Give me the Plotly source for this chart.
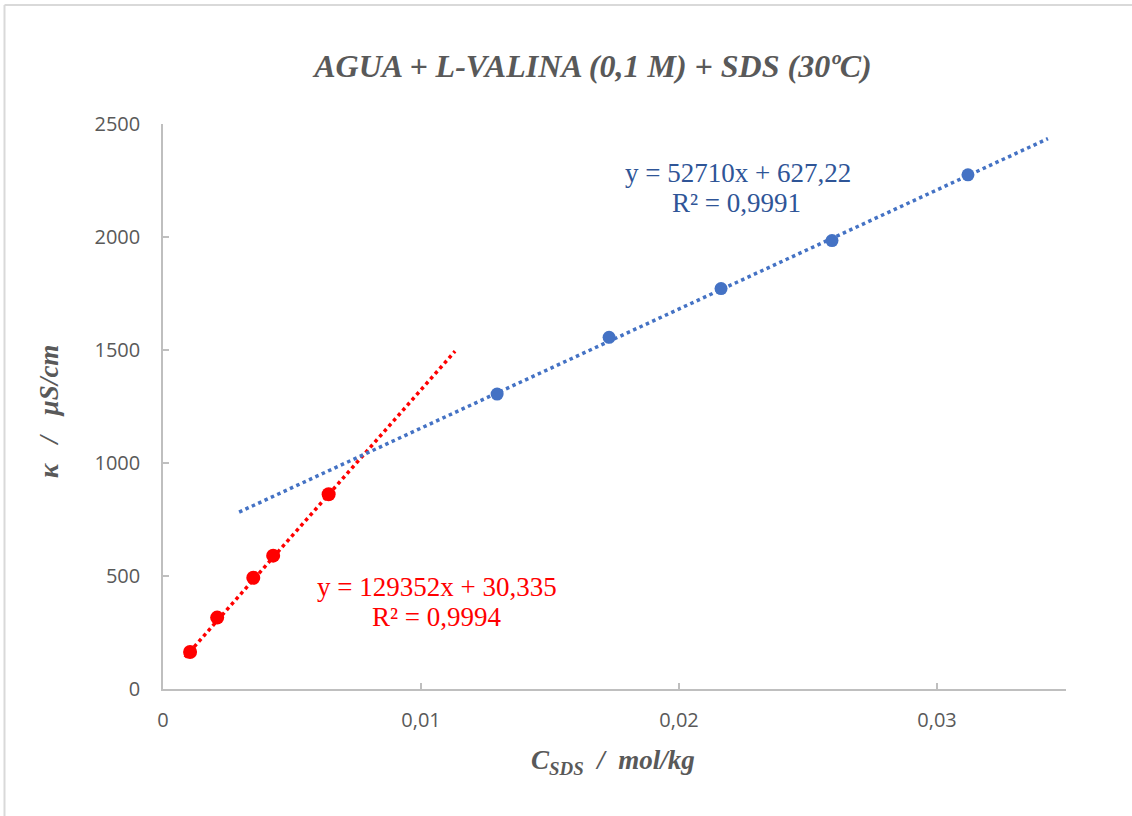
import plotly.graph_objects as go

# --- data ---
red_x = [0.00105, 0.00210, 0.00350, 0.00427, 0.00642]
red_y = [164, 316, 492, 590, 862]
blue_x = [0.01295, 0.01729, 0.02163, 0.02593, 0.03120]
blue_y = [1305, 1556, 1772, 1984, 2275]

red_slope, red_icpt = 129352, 30.335
blue_slope, blue_icpt = 52710, 627.22
red_fit_x = [0.00085, 0.01132]
blue_fit_x = [0.00295, 0.03430]

red_label = ["y = 129352x + 30,335", "R² = 0,9994"]
blue_label = ["y = 52710x + 627,22", "R² = 0,9991"]

x_ticks = [0, 0.01, 0.02, 0.03]
x_tick_text = ["0", "0,01", "0,02", "0,03"]
y_ticks = [0, 500, 1000, 1500, 2000, 2500]

NB = "\u00a0"
title_text = "AGUA + L-VALINA (0,1 M) + SDS (30ºC)"
x_title = "C<sub>SDS</sub>" + NB * 2 + "/" + NB * 2 + "mol/kg"
y_title = "κ" + NB * 3 + "/" + NB * 3 + "µS/cm"

RED = "#FF0000"
BLUE = "#4472C4"
GREY = "#595959"
AX = "#BFBFBF"

fig = go.Figure()

fig.add_trace(go.Scatter(
    x=red_fit_x, y=[red_slope * v + red_icpt for v in red_fit_x],
    mode="lines", line=dict(color=RED, width=3.5, dash="dot"),
    showlegend=False, hoverinfo="skip"))
fig.add_trace(go.Scatter(
    x=blue_fit_x, y=[blue_slope * v + blue_icpt for v in blue_fit_x],
    mode="lines", line=dict(color=BLUE, width=3.5, dash="dot"),
    showlegend=False, hoverinfo="skip"))
fig.add_trace(go.Scatter(
    x=red_x, y=red_y, mode="markers",
    marker=dict(color=RED, size=14), showlegend=False))
fig.add_trace(go.Scatter(
    x=blue_x, y=blue_y, mode="markers",
    marker=dict(color=BLUE, size=13), showlegend=False))

serif = "Liberation Serif"
sans = "Open Sans"


def bi(size):
    return dict(family=serif, size=size, color=GREY, weight="bold", style="italic")


fig.update_layout(
    width=1132, height=816,
    margin=dict(l=163, r=66, t=124, b=127),
    paper_bgcolor="white", plot_bgcolor="white",
    showlegend=False,
    title=dict(text=title_text,
               x=593 / 1132, xref="container", xanchor="center",
               y=1 - 66 / 816, yref="container", yanchor="middle",
               font=bi(32)),
    xaxis=dict(range=[0, 0.035], tickvals=x_ticks, ticktext=x_tick_text,
               showgrid=False, zeroline=False, showline=True,
               linecolor=AX, linewidth=1.5, ticks="inside", ticklen=6,
               tickcolor=AX, tickwidth=1.5,
               tickfont=dict(family=sans, size=20, color=GREY),
               ticklabelstandoff=12),
    yaxis=dict(range=[0, 2500], tickvals=y_ticks,
               showgrid=False, zeroline=False, showline=True,
               linecolor=AX, linewidth=1.5, ticks="inside", ticklen=6,
               tickcolor=AX, tickwidth=1.5,
               tickfont=dict(family=sans, size=20, color=GREY),
               ticklabelstandoff=17),
)


def px_x(p):
    return (p - 163) / 903


def px_y(p):
    return (689 - p) / 565


fig.add_annotation(text=x_title, xref="paper", yref="paper",
                   x=px_x(613), y=px_y(762), showarrow=False,
                   xanchor="center", yanchor="middle", font=bi(27))
fig.add_annotation(text=y_title, xref="paper", yref="paper",
                   x=px_x(49), y=px_y(412), showarrow=False,
                   textangle=-90, xanchor="center", yanchor="middle", font=bi(27))

for txt, cx, cy in [(blue_label[0], 738, 173), (blue_label[1], 736, 203)]:
    fig.add_annotation(text=txt, xref="paper", yref="paper",
                       x=px_x(cx), y=px_y(cy), showarrow=False,
                       xanchor="center", yanchor="middle",
                       font=dict(family=serif, size=27, color="#2F5597"))
for txt, cx, cy in [(red_label[0], 437, 587), (red_label[1], 437, 617)]:
    fig.add_annotation(text=txt, xref="paper", yref="paper",
                       x=px_x(cx), y=px_y(cy), showarrow=False,
                       xanchor="center", yanchor="middle",
                       font=dict(family=serif, size=27, color=RED))

# outer chart border (top & left edges visible)
bx = (4.5 - 163) / 903
by = (689 - 5) / 565
fig.add_shape(type="line", xref="paper", yref="paper", x0=bx, y0=by, x1=2, y1=by,
              line=dict(color="#D9D9D9", width=2))
fig.add_shape(type="line", xref="paper", yref="paper", x0=bx, y0=by, x1=bx, y1=-2,
              line=dict(color="#D9D9D9", width=2))

fig.write_html("out.html")
